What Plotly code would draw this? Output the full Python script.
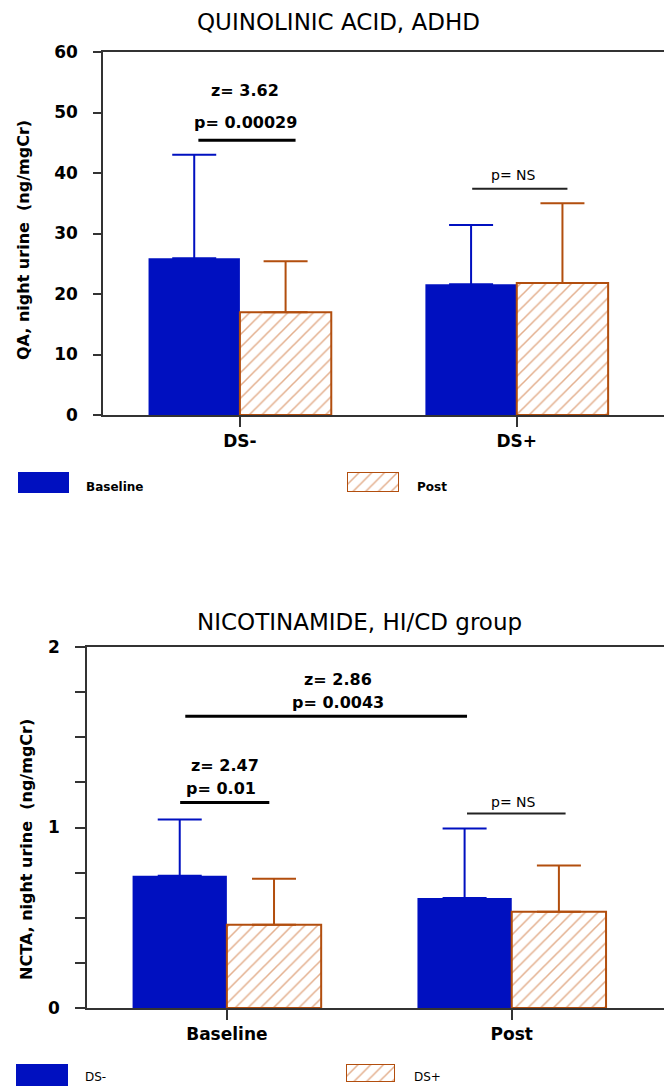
import plotly.graph_objects as go

# The page body has an 8px default margin: the figure is sized to fill the rest of the window.
PAGE_W, PAGE_H, BODY = 672, 1086, 8
W, H = PAGE_W - BODY, PAGE_H - BODY

# ---------------- data ----------------
qa_categories = ["DS-", "DS+"]
qa_baseline_mean = [25.9, 21.6]
qa_baseline_sd = [17.1, 9.8]
qa_post_mean = [17.0, 21.8]
qa_post_sd = [8.4, 13.2]

ncta_categories = ["Baseline", "Post"]
ncta_dsminus_mean = [0.733, 0.61]
ncta_dsminus_sd = [0.311, 0.384]
ncta_dsplus_mean = [0.461, 0.533]
ncta_dsplus_sd = [0.255, 0.256]

qa_yticks = [0, 10, 20, 30, 40, 50, 60]
ncta_yticks = [0, 0.25, 0.5, 0.75, 1, 1.25, 1.5, 1.75, 2]
ncta_yticklabels = ["0", "", "", "", "1", "", "", "", "2"]

# significance annotations (lines + texts), in data units
qa_sig = [
    dict(x0=-0.150, x1=0.201, y=45.4, texts=[("z= 3.62", 0.02, 53.7), ("p= 0.00029", 0.02, 48.4)], bold=True),
    dict(x0=0.839, x1=1.183, y=37.4, texts=[("p= NS", 0.989, 39.7)], bold=False),
]
ncta_sig = [
    dict(x0=-0.146, x1=0.843, y=1.617, texts=[("z= 2.86", 0.39, 1.822), ("p= 0.0043", 0.39, 1.694)], bold=True),
    dict(x0=-0.164, x1=0.149, y=1.139, texts=[("z= 2.47", -0.005, 1.344), ("p= 0.01", -0.02, 1.217)], bold=True),
    dict(x0=0.843, x1=1.189, y=1.078, texts=[("p= NS", 1.007, 1.144)], bold=False),
]

# ---------------- styles ----------------
BLUE = "#0010C0"
ORANGE_LINE = "#B24E0E"
ORANGE_HATCH = "#C8601E"
AXIS = "#333333"
FONT = "DejaVu Sans"


def px_x(p):
    return (p - BODY) / W


def px_y(p):
    return 1 - (p - BODY) / H


fig = go.Figure()

hatch = dict(shape="/", fgcolor=ORANGE_HATCH, bgcolor="white", size=9, solidity=0.17)


def add_pair(cats, m1, s1, m2, s2, xa, ya, width):
    fig.add_trace(go.Bar(
        x=cats, y=m1, xaxis=xa, yaxis=ya, width=width, offset=-width,
        marker=dict(color=BLUE, line=dict(width=0)),
        error_y=dict(type="data", symmetric=False, array=s1, arrayminus=[0] * len(s1),
                     color=BLUE, thickness=2, width=22),
        showlegend=False,
    ))
    fig.add_trace(go.Bar(
        x=cats, y=m2, xaxis=xa, yaxis=ya, width=width, offset=0,
        marker=dict(color="white", pattern=hatch, line=dict(color=ORANGE_LINE, width=2)),
        error_y=dict(type="data", symmetric=False, array=s2, arrayminus=[0] * len(s2),
                     color=ORANGE_LINE, thickness=2, width=22),
        showlegend=False,
    ))


add_pair(qa_categories, qa_baseline_mean, qa_baseline_sd, qa_post_mean, qa_post_sd, "x", "y", 0.33)
add_pair(ncta_categories, ncta_dsminus_mean, ncta_dsminus_sd, ncta_dsplus_mean, ncta_dsplus_sd, "x2", "y2", 0.331)

# legend swatches as bars on hidden axes
swatches = [
    ("x3", "y3", (18, 69), (472, 493), "solid"),
    ("x4", "y4", (347, 399), (472, 492), "hatch"),
    ("x5", "y5", (16, 68), (1064, 1086), "solid"),
    ("x6", "y6", (346, 395), (1064, 1082), "hatch"),
]
layout_extra = {}
for i, (xa, ya, (xl, xr), (yt, yb), kind) in enumerate(swatches):
    if kind == "solid":
        marker = dict(color=BLUE, line=dict(width=0))
    else:
        marker = dict(color="white", pattern=hatch, line=dict(color=ORANGE_LINE, width=2))
    fig.add_trace(go.Bar(x=[0], y=[1], width=[1], xaxis=xa, yaxis=ya, marker=marker,
                         showlegend=False, hoverinfo="skip"))
    n = xa[1:]
    layout_extra["xaxis" + n] = dict(domain=[px_x(xl), px_x(xr)], range=[-0.5, 0.5], visible=False,
                                     anchor="y" + n, fixedrange=True, automargin=False)
    layout_extra["yaxis" + n] = dict(domain=[max(0, px_y(yb)), px_y(yt)], range=[0, 1], visible=False,
                                     anchor="x" + n, fixedrange=True, automargin=False)

shapes = []
annotations = []


def add_sig(specs, xref, yref):
    for s in specs:
        shapes.append(dict(type="line", xref=xref, yref=yref, x0=s["x0"], x1=s["x1"],
                           y0=s["y"], y1=s["y"],
                           line=dict(color="black" if s["bold"] else "#222222",
                                     width=3 if s["bold"] else 2)))
        for t, tx, ty in s["texts"]:
            annotations.append(dict(
                xref=xref, yref=yref, x=tx, y=ty, text=t, showarrow=False,
                font=dict(family=FONT, size=16 if s["bold"] else 14, color="black",
                          weight="bold" if s["bold"] else "normal"),
            ))


add_sig(qa_sig, "x", "y")
add_sig(ncta_sig, "x2", "y2")

# titles, axis titles, legend texts
texts = [
    ("QUINOLINIC ACID, ADHD", 338, 22, 23, "normal", 0, "center"),
    ("NICOTINAMIDE, HI/CD group", 359, 622, 23, "normal", 0, "center"),
    ("QA, night urine  (ng/mgCr)", 24, 240, 16, "bold", -90, "center"),
    ("NCTA, night urine  (ng/mgCr)", 26, 850, 16, "bold", -90, "center"),
    ("Baseline", 84, 487, 12, "bold", 0, "left"),
    ("Post", 415, 487, 12, "bold", 0, "left"),
    ("DS-", 83, 1077, 12, "normal", 0, "left"),
    ("DS+", 412, 1077, 12, "normal", 0, "left"),
]
for t, x, y, size, weight, ang, anchor in texts:
    annotations.append(dict(xref="paper", yref="paper", x=px_x(x), y=px_y(y), text=t,
                            showarrow=False, textangle=ang, xanchor=anchor, yanchor="middle",
                            font=dict(family=FONT, size=size, color="black", weight=weight)))

axis_common = dict(showline=True, linecolor=AXIS, linewidth=1.5, ticks="outside",
                   tickcolor=AXIS, tickwidth=1.5, showgrid=False, zeroline=False,
                   automargin=False,
                   tickfont=dict(family=FONT, size=17, color="black", weight="bold"))

fig.update_layout(
    width=W, height=H,
    margin=dict(l=0, r=0, t=0, b=0, autoexpand=False),
    paper_bgcolor="white", plot_bgcolor="white",
    barmode="overlay",
    xaxis=dict(domain=[px_x(103), 1], range=[-0.4945, 1.590 - BODY / 273], type="category",
               mirror=True, ticklen=10, ticklabelstandoff=0, anchor="y", **axis_common),
    yaxis=dict(domain=[px_y(415), px_y(52)], range=[0, 60], tickvals=qa_yticks,
               ticklen=8, ticklabelstandoff=12, anchor="x", **axis_common),
    xaxis2=dict(domain=[px_x(87), 1], range=[-0.491, 1.591 - BODY / 281], type="category",
                mirror=True, ticklen=10, ticklabelstandoff=0, anchor="y2", **axis_common),
    yaxis2=dict(domain=[px_y(1008), px_y(647)], range=[0, 2], tickvals=ncta_yticks,
                ticktext=ncta_yticklabels, ticklen=10, ticklabelstandoff=12, anchor="x2",
                **axis_common),
    shapes=shapes,
    annotations=annotations,
    **layout_extra,
)

fig.write_html("out.html")
